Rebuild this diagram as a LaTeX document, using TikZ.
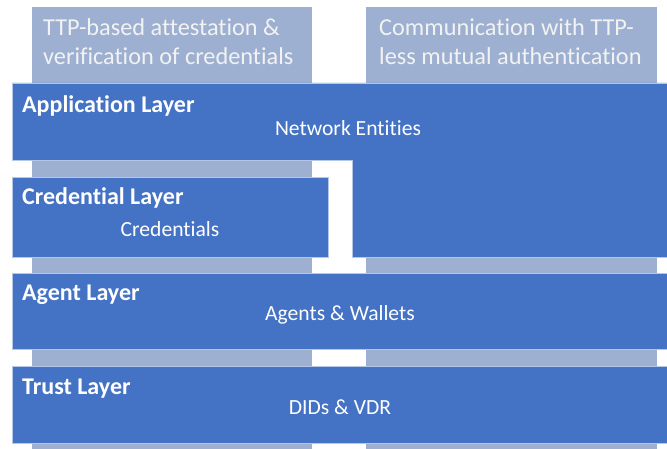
\documentclass[tikz,border=0pt]{standalone}
\usepackage{fontspec}
\setmainfont[Ligatures=NoCommon]{Carlito}
\definecolor{layerblue}{HTML}{4472C4}
\definecolor{colgray}{HTML}{9DB0D1}
\definecolor{edgeblue}{HTML}{B4C7E7}
\definecolor{coltext}{HTML}{F2F2F2}
\begin{document}
\begin{tikzpicture}[x=1pt,y=-1pt,
  column/.style={fill=colgray,draw=none},
  layer/.style={fill=layerblue,draw=edgeblue,line width=0.6pt},
  coltitle/.style={anchor=base west,text=coltext,font=\fontsize{24.3}{29}\selectfont,inner sep=0pt},
  ltitle/.style={anchor=base west,text=white,font=\bfseries\fontsize{24}{28}\selectfont,inner sep=0pt},
  lsub/.style={anchor=base,text=white,font=\fontsize{21.6}{26}\selectfont,inner sep=0pt}]
\useasboundingbox (0,0) rectangle (667,449);
\fill[white] (0,0) rectangle (667,449);
% columns
\path[column] (32,7) rectangle (312,449);
\path[column] (366,7) rectangle (657,449);
\node[coltitle] (c1a) at (43,36) {TTP-based attestation \&};
\node[coltitle] (c1b) at (43,65) {verification of credentials};
\node[coltitle] (c2a) at (379,36) {Communication with TTP-};
\node[coltitle] (c2b) at (379,65) {less mutual authentication};
% layers
\draw[layer] (12,83) -- (667,83) -- (667,257) -- (352,257) -- (352,160) -- (12,160) -- cycle;
\draw[layer] (12,177) rectangle (328,257);
\draw[layer] (12,273) rectangle (667,349);
\draw[layer] (12,366) rectangle (667,443);
% texts
\node[ltitle] (app) at (22,113) {Application Layer};
\node[lsub] (appsub) at (348,136) {Network Entities};
\node[ltitle] (cred) at (22,205) {Credential Layer};
\node[lsub] (credsub) at (170,237) {Credentials};
\node[ltitle] (agent) at (22,301) {Agent Layer};
\node[lsub] (agentsub) at (340,320) {Agents \& Wallets};
\node[ltitle] (trust) at (22,394) {Trust Layer};
\node[lsub] (trustsub) at (340,414) {DIDs \& VDR};
\end{tikzpicture}
\end{document}
